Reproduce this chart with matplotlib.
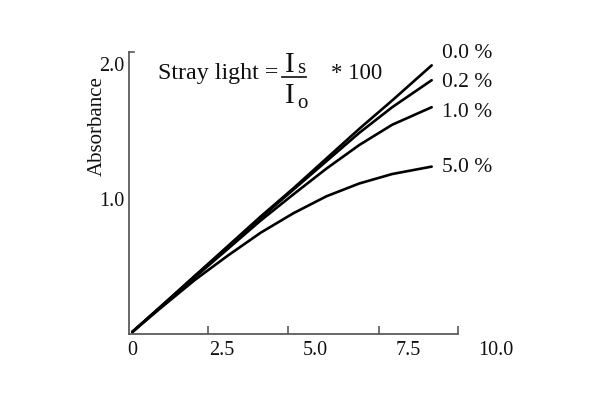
import matplotlib
matplotlib.use("Agg")
import matplotlib.pyplot as plt
from matplotlib.lines import Line2D

# ---- data ----
conc = [0.1, 1.0, 2.0, 3.0, 4.0, 5.0, 6.0, 7.0, 8.0, 9.2]
abs_00 = [0.015, 0.21, 0.43, 0.65, 0.87, 1.08, 1.30, 1.52, 1.73, 1.99]
abs_02 = [0.015, 0.21, 0.43, 0.645, 0.86, 1.07, 1.28, 1.49, 1.68, 1.88]
abs_10 = [0.015, 0.21, 0.42, 0.63, 0.84, 1.035, 1.225, 1.40, 1.55, 1.68]
abs_50 = [0.015, 0.20, 0.40, 0.58, 0.75, 0.895, 1.02, 1.115, 1.185, 1.24]
series_labels = ["0.0 %", "0.2 %", "1.0 %", "5.0 %"]
label_y = [2.08, 1.86, 1.64, 1.23]
x_tick_marks = [2.4, 4.83, 7.6, 10.0]
x_tick_label_pos = [0.09, 2.83, 5.65, 8.48, 11.15]
x_tick_labels = ["0", "2.5", "5.0", "7.5", "10.0"]
y_tick_labels = ["1.0", "2.0"]
y_tick_pos = [1.0, 2.0]

plt.rcParams['font.family'] = ['Liberation Serif', 'DejaVu Serif']
FS = 14.5
TXT = '#111111'

fig = plt.figure(figsize=(6, 4), dpi=100)
W, H = 600, 400
x0, y0 = 129, 334
xscale = 32.9   # px per x unit
yscale = 135.0  # px per y unit
xmax = 11.6
ymax = 2.09
ax = fig.add_axes([x0 / W, 1 - y0 / H, xmax * xscale / W, ymax * yscale / H])
ax.set_xlim(0, xmax)
ax.set_ylim(0, ymax)
ax.patch.set_alpha(0)

for ys in (abs_00, abs_02, abs_10, abs_50):
    ax.plot(conc, ys, color='black', lw=1.9, solid_capstyle='round')

for lab, ly in zip(series_labels, label_y):
    ax.text(9.51, ly, lab, fontsize=15.5, ha='left', va='center', color=TXT)

for s in ('top', 'right'):
    ax.spines[s].set_visible(False)
spine_col = '#5a5a5a'
ax.spines['bottom'].set_bounds(0, 10.0)
ax.spines['bottom'].set_color(spine_col)
ax.spines['left'].set_color(spine_col)
ax.spines['bottom'].set_linewidth(1.3)
ax.spines['left'].set_linewidth(1.3)

# major ticks carry labels only; minor ticks are the tick marks
ax.set_xticks(x_tick_label_pos)
ax.set_xticklabels(x_tick_labels, fontsize=FS, color=TXT)
ax.tick_params(axis='x', which='major', length=0, pad=5)
ax.set_xticks(x_tick_marks, minor=True)
ax.tick_params(axis='x', which='minor', direction='in', length=6, width=1.2, color=spine_col)

ax.set_yticks(y_tick_pos)
ax.set_yticklabels(y_tick_labels, fontsize=FS, color=TXT)
ax.tick_params(axis='y', which='major', length=0, pad=3)
ax.set_yticks([1.0], minor=True)
ax.tick_params(axis='y', which='minor', direction='out', length=5, width=1.2, color=spine_col)
# small inward tick at top of y axis
ax.plot([0, 0.15], [ymax, ymax], color=spine_col, lw=1.2, clip_on=False)

fig.text(97 / W, 1 - 126 / H, "Absorbance", rotation=90, fontsize=15,
         ha='center', va='center', color=TXT)

# formula
def fx(px):
    return px / W

def fy(py):
    return 1 - py / H

fig.text(fx(158), fy(79), "Stray light =", fontsize=17.3, ha='left', va='baseline', color=TXT)
fig.text(fx(285), fy(72), "I", fontsize=21, ha='left', va='baseline', color=TXT)
fig.text(fx(297), fy(73), "s", fontsize=15, ha='left', va='baseline', color=TXT)
fig.add_artist(Line2D([fx(282), fx(306)], [fy(77), fy(77)], color='#222222', lw=1.3))
fig.text(fx(285), fy(103), "I", fontsize=21, ha='left', va='baseline', color=TXT)
fig.text(fx(297), fy(108), "o", fontsize=15, ha='left', va='baseline', color=TXT)
fig.text(fx(331), fy(79), "* 100", fontsize=16.5, ha='left', va='baseline', color=TXT)

fig.savefig("out.png", dpi=100, facecolor='white')
